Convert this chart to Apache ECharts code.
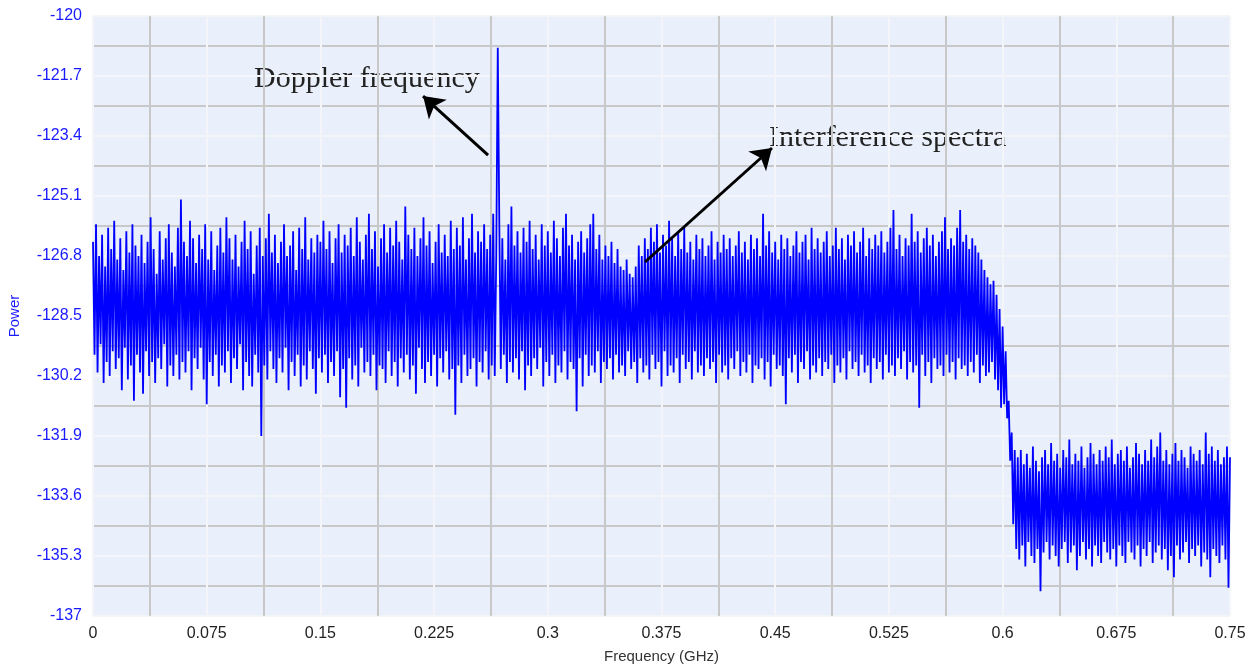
<!DOCTYPE html>
<html>
<head>
<meta charset="utf-8">
<title>Power spectrum</title>
<script src="https://cdn.jsdelivr.net/npm/echarts@6/dist/echarts.min.js"></script>
<style>
  html, body { margin: 0; padding: 0; background: #fff; }
  #main { width: 1258px; height: 671px; }
</style>
</head>
<body>
<div id="main"></div>
<script>
// sampling step of the spectrum (GHz)
const freqStep = 0.001;

// power (dB), 0 - 0.149 GHz
const powerSeg1 = [
  -126.4,-129.6,-125.9,-130.1,-126.8,-129.3,-126.2,-130.4,-127.1,-129.8,
  -126.0,-130.2,-126.6,-129.5,-125.8,-130.0,-126.9,-129.7,-126.3,-130.6,
  -127.2,-129.4,-126.1,-130.3,-126.7,-129.9,-125.9,-130.9,-126.5,-129.6,
  -126.8,-130.1,-126.2,-130.7,-127.0,-129.5,-126.4,-130.2,-125.7,-129.8,
  -126.6,-130.4,-127.3,-129.7,-126.1,-130.0,-126.9,-129.3,-126.3,-130.5,
  -125.9,-129.9,-126.7,-130.2,-127.1,-129.6,-126.0,-130.3,-125.2,-129.8,
  -126.4,-130.1,-126.8,-129.5,-125.8,-130.6,-126.3,-129.7,-127.0,-130.0,
  -126.2,-129.4,-126.6,-130.3,-125.9,-131.0,-126.9,-129.8,-126.1,-130.2,
  -127.2,-129.6,-126.5,-130.5,-126.0,-129.9,-126.7,-130.1,-125.7,-129.5,
  -126.3,-130.4,-126.9,-129.7,-126.2,-130.0,-127.1,-129.3,-126.4,-130.6,
  -125.8,-129.8,-126.6,-130.2,-126.1,-130.5,-127.3,-129.6,-126.5,-130.1,
  -126.0,-131.9,-126.8,-129.9,-126.3,-130.3,-125.6,-129.5,-126.7,-130.0,
  -126.2,-130.4,-127.0,-129.7,-126.4,-130.1,-125.9,-129.4,-126.8,-130.6,
  -126.5,-129.8,-126.1,-130.2,-127.2,-129.6,-126.0,-130.5,-126.6,-129.9,
  -125.7,-130.3,-126.9,-129.5,-126.3,-130.0,-126.7,-130.7,-126.2,-129.7
];

// 0.150 - 0.299 GHz (Doppler line at 0.267)
const powerSeg2 = [
  -126.4,-130.1,-125.8,-129.6,-126.6,-130.4,-126.1,-129.8,-127.0,-130.2,
  -126.3,-129.5,-125.9,-130.8,-126.7,-130.0,-126.2,-131.1,-126.5,-129.7,
  -126.0,-130.3,-126.8,-129.9,-125.7,-130.5,-126.4,-129.4,-126.9,-130.1,
  -126.2,-129.8,-125.6,-130.2,-126.6,-129.6,-126.1,-130.6,-127.1,-129.9,
  -126.3,-130.0,-125.9,-130.4,-126.7,-129.5,-126.0,-130.2,-126.5,-129.8,
  -125.8,-130.5,-126.4,-129.7,-126.9,-130.1,-125.4,-129.6,-126.2,-130.3,
  -126.6,-129.9,-126.0,-130.7,-126.8,-129.4,-126.3,-130.0,-125.7,-130.4,
  -126.5,-129.8,-126.1,-130.2,-127.0,-129.6,-126.4,-130.5,-125.9,-129.7,
  -126.7,-130.1,-126.2,-129.5,-126.8,-130.3,-125.8,-130.0,-126.6,-131.3,
  -126.0,-129.9,-126.5,-130.4,-125.7,-129.6,-126.9,-130.2,-126.3,-130.0,
  -125.6,-129.7,-126.7,-130.5,-126.1,-129.8,-126.4,-130.1,-125.9,-129.5,
  -126.6,-130.3,-126.2,-129.9,-125.6,-130.2,-126.8,-120.9,-125.8,-130.0,
  -126.3,-129.6,-126.9,-130.4,-125.9,-129.8,-125.4,-130.1,-126.5,-129.7,
  -126.1,-130.3,-126.7,-129.5,-126.0,-130.6,-126.4,-129.9,-125.8,-130.2,
  -126.6,-129.7,-126.2,-130.0,-126.9,-129.4,-125.9,-130.5,-126.5,-129.8
];

// 0.300 - 0.449 GHz
const powerSeg3 = [
  -126.1,-130.2,-126.7,-129.6,-125.8,-130.4,-126.3,-129.9,-126.8,-130.1,
  -126.0,-129.5,-125.6,-130.3,-126.5,-129.8,-126.2,-130.0,-126.9,-131.2,
  -126.4,-129.7,-126.1,-130.5,-126.7,-129.6,-126.3,-130.2,-125.9,-129.9,
  -125.6,-130.1,-126.6,-129.5,-126.2,-130.4,-126.9,-129.8,-126.5,-130.0,
  -126.8,-129.7,-126.4,-130.3,-127.0,-129.6,-126.6,-130.1,-127.1,-129.9,
  -127.2,-130.2,-126.9,-129.5,-127.3,-130.0,-127.4,-129.8,-127.1,-130.4,
  -126.5,-129.7,-126.8,-130.1,-126.3,-129.9,-126.6,-130.3,-126.0,-129.6,
  -126.4,-130.0,-125.9,-129.8,-126.7,-130.5,-126.2,-129.5,-126.5,-130.2,
  -125.8,-129.9,-126.3,-130.1,-126.8,-129.7,-126.1,-130.4,-126.6,-129.6,
  -126.0,-130.0,-126.7,-129.8,-126.4,-130.3,-126.9,-129.5,-126.2,-130.1,
  -126.6,-129.9,-126.3,-130.2,-126.8,-129.7,-126.5,-130.0,-126.1,-129.8,
  -126.9,-130.4,-126.4,-129.6,-126.7,-130.1,-126.2,-129.9,-126.6,-130.3,
  -126.3,-129.7,-126.8,-130.0,-126.5,-129.5,-126.1,-130.2,-126.7,-129.8,
  -126.4,-130.1,-126.9,-129.6,-126.2,-130.4,-126.6,-129.9,-126.3,-130.0,
  -126.8,-129.7,-125.6,-130.3,-126.5,-129.8,-126.1,-130.5,-126.7,-129.6
];

// 0.450 - 0.599 GHz (roll-off starts near 0.59)
const powerSeg4 = [
  -126.4,-130.0,-126.9,-129.9,-126.2,-130.2,-126.6,-131.0,-126.3,-129.7,
  -126.8,-130.1,-126.5,-129.6,-126.1,-130.4,-126.7,-129.8,-126.4,-130.0,
  -126.2,-129.5,-126.9,-130.3,-126.0,-129.9,-126.6,-130.1,-126.3,-129.7,
  -126.7,-130.2,-126.4,-129.8,-126.1,-130.0,-126.8,-129.6,-126.5,-130.4,
  -126.0,-129.9,-126.6,-130.1,-126.3,-129.7,-126.9,-130.3,-126.2,-129.5,
  -126.5,-130.0,-126.1,-129.8,-126.7,-130.2,-126.4,-129.6,-126.0,-130.1,
  -126.8,-129.9,-126.3,-130.4,-126.6,-129.7,-126.2,-130.0,-126.5,-129.8,
  -126.1,-130.3,-126.7,-129.6,-126.4,-130.1,-126.0,-129.9,-125.5,-130.2,
  -126.6,-129.7,-126.2,-130.0,-126.8,-129.5,-126.3,-130.3,-126.5,-129.8,
  -125.6,-130.1,-126.4,-129.9,-126.1,-131.1,-126.7,-129.6,-126.3,-130.2,
  -126.0,-129.8,-126.5,-130.4,-126.2,-129.7,-126.8,-130.0,-126.4,-129.9,
  -126.1,-130.2,-125.7,-129.6,-126.6,-130.1,-126.3,-129.8,-126.5,-130.3,
  -126.0,-129.7,-125.5,-130.0,-126.4,-129.9,-126.2,-130.2,-126.6,-129.8,
  -126.3,-130.1,-126.5,-129.6,-126.7,-130.4,-126.9,-129.9,-127.2,-130.2,
  -127.4,-130.1,-127.6,-129.8,-127.5,-130.3,-127.9,-130.6,-128.3,-131.1
];

// 0.600 - 0.750 GHz (floor after the roll-off)
const powerSeg5 = [
  -128.8,-131.0,-129.5,-131.4,-130.9,-132.6,-131.8,-134.4,-132.3,-135.1,
  -132.5,-135.4,-132.3,-135.0,-132.7,-135.6,-132.4,-134.9,-132.8,-135.3,
  -132.2,-135.5,-132.6,-135.1,-132.9,-136.3,-132.5,-135.2,-132.3,-134.9,
  -132.7,-135.4,-132.1,-135.0,-132.6,-135.3,-132.4,-135.6,-132.8,-135.1,
  -132.3,-134.9,-132.5,-135.5,-132.0,-135.2,-132.7,-135.0,-132.4,-135.7,
  -132.6,-135.3,-132.2,-134.9,-132.8,-135.4,-132.5,-135.1,-132.1,-135.6,
  -132.4,-135.0,-132.7,-135.3,-132.3,-135.5,-132.6,-134.9,-132.2,-135.2,
  -132.5,-135.4,-132.0,-135.1,-132.7,-135.6,-132.4,-135.0,-132.3,-135.3,
  -132.6,-135.5,-132.2,-134.9,-132.8,-135.2,-132.5,-135.4,-132.1,-135.0,
  -132.4,-135.6,-132.7,-135.1,-132.3,-135.3,-132.6,-134.9,-132.0,-135.5,
  -132.5,-135.2,-132.2,-135.0,-131.8,-135.4,-132.6,-135.1,-132.3,-135.7,
  -132.7,-135.3,-132.4,-135.9,-132.1,-135.0,-132.6,-135.4,-132.3,-135.2,
  -132.5,-134.9,-132.8,-135.5,-132.2,-135.1,-132.4,-135.3,-132.6,-135.0,
  -132.3,-135.6,-132.7,-135.2,-131.8,-135.4,-132.4,-135.9,-132.2,-135.1,
  -132.6,-135.3,-132.3,-135.5,-132.7,-135.0,-132.5,-135.4,-132.2,-136.2,
  -132.5
];

// annotation arrows, [tail, head] in data units
const dopplerArrow = [[0.2606, -123.94], [0.2177, -122.27]];
const interferenceArrow = [[0.3641, -126.97], [0.4479, -123.74]];

const power = [].concat(powerSeg1, powerSeg2, powerSeg3, powerSeg4, powerSeg5);
const seriesData = power.map((p, i) => [+(i * freqStep).toFixed(3), p]);

const chart = echarts.init(document.getElementById('main'));

const option = {
  animation: false,
  backgroundColor: '#ffffff',
  grid: {
    left: 93,
    right: 28,
    top: 16,
    bottom: 55,
    show: true,
    backgroundColor: '#eaf0fb',
    borderWidth: 0,
    containLabel: false,
    outerBoundsMode: 'none'
  },
  xAxis: {
    type: 'value',
    min: 0,
    max: 0.75,
    interval: 0.075,
    name: 'Frequency (GHz)',
    nameLocation: 'middle',
    nameGap: 33,
    nameTextStyle: { color: '#333', fontSize: 15, fontFamily: 'Liberation Sans' },
    axisLine: { show: false },
    axisTick: { show: false },
    axisLabel: {
      color: '#222',
      fontSize: 16,
      fontFamily: 'Liberation Sans',
      margin: 10,
      formatter: v => String(+v.toFixed(3))
    },
    splitLine: { show: true, lineStyle: { color: '#f3f5f9', width: 2 } },
    minorTick: { show: false, splitNumber: 2 },
    minorSplitLine: { show: true, lineStyle: { color: '#c8c8c8', width: 2 } }
  },
  yAxis: {
    type: 'value',
    min: -137,
    max: -120,
    interval: 1.7,
    name: 'Power',
    nameLocation: 'middle',
    nameGap: 71,
    nameTextStyle: { color: '#1a1aff', fontSize: 15, fontFamily: 'Liberation Sans' },
    axisLine: { show: false },
    axisTick: { show: false },
    axisLabel: {
      color: '#1a1aff',
      fontSize: 16,
      fontFamily: 'Liberation Sans',
      margin: 11,
      formatter: v => String(+v.toFixed(1))
    },
    splitLine: { show: true, lineStyle: { color: '#f3f5f9', width: 2 } },
    minorTick: { show: false, splitNumber: 2 },
    minorSplitLine: { show: true, lineStyle: { color: '#c8c8c8', width: 2 } }
  },
  series: [
    {
      type: 'line',
      data: seriesData,
      showSymbol: false,
      sampling: false,
      lineStyle: { color: '#0000ff', width: 1.8 },
      itemStyle: { color: '#0000ff' },
      markLine: {
        silent: true,
        symbol: ['none', 'arrow'],
        symbolSize: 20,
        label: { show: false },
        emphasis: { disabled: true },
        itemStyle: { color: '#000' },
        lineStyle: { color: '#000', width: 3, type: 'solid' },
        data: [
          [{ coord: dopplerArrow[0] }, { coord: dopplerArrow[1] }],
          [{ coord: interferenceArrow[0] }, { coord: interferenceArrow[1] }]
        ]
      }
    }
  ],
  graphic: [
    {
      type: 'text',
      x: 254,
      y: 79,
      style: {
        text: 'Doppler frequency',
        font: '30px "Liberation Serif"',
        fill: '#222',
        verticalAlign: 'middle'
      }
    },
    {
      type: 'text',
      x: 769,
      y: 138,
      style: {
        text: 'Interference spectra',
        font: '30px "Liberation Serif"',
        fill: '#222',
        verticalAlign: 'middle'
      }
    }
  ]
};

chart.setOption(option);
</script>
</body>
</html>
